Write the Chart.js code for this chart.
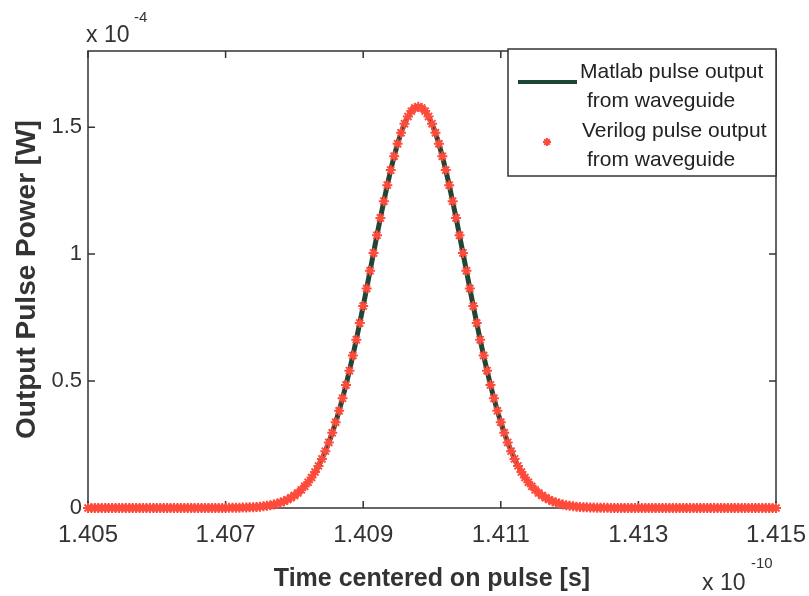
<!DOCTYPE html>
<html>
<head>
<meta charset="utf-8">
<script src="https://cdn.jsdelivr.net/npm/chart.js@4"></script>
<style>
  html, body { margin: 0; padding: 0; background: #fff; }
  #wrap { width: 809px; height: 596px; }
</style>
</head>
<body>
<div id="wrap"><canvas id="pulseChart" width="809" height="596"></canvas></div>
<script>
// Time axis, units of 1e-10 s
const timeValues = [
  1.40500, 1.40505, 1.40510, 1.40515, 1.40520, 1.40525, 1.40530, 1.40535, 1.40540, 1.40545,
  1.40550, 1.40555, 1.40560, 1.40565, 1.40570, 1.40575, 1.40580, 1.40585, 1.40590, 1.40595,
  1.40600, 1.40605, 1.40610, 1.40615, 1.40620, 1.40625, 1.40630, 1.40635, 1.40640, 1.40645,
  1.40650, 1.40655, 1.40660, 1.40665, 1.40670, 1.40675, 1.40680, 1.40685, 1.40690, 1.40695,
  1.40700, 1.40705, 1.40710, 1.40715, 1.40720, 1.40725, 1.40730, 1.40735, 1.40740, 1.40745,
  1.40750, 1.40755, 1.40760, 1.40765, 1.40770, 1.40775, 1.40780, 1.40785, 1.40790, 1.40795,
  1.40800, 1.40805, 1.40810, 1.40815, 1.40820, 1.40825, 1.40830, 1.40835, 1.40840, 1.40845,
  1.40850, 1.40855, 1.40860, 1.40865, 1.40870, 1.40875, 1.40880, 1.40885, 1.40890, 1.40895,
  1.40900, 1.40905, 1.40910, 1.40915, 1.40920, 1.40925, 1.40930, 1.40935, 1.40940, 1.40945,
  1.40950, 1.40955, 1.40960, 1.40965, 1.40970, 1.40975, 1.40980, 1.40985, 1.40990, 1.40995,
  1.41000, 1.41005, 1.41010, 1.41015, 1.41020, 1.41025, 1.41030, 1.41035, 1.41040, 1.41045,
  1.41050, 1.41055, 1.41060, 1.41065, 1.41070, 1.41075, 1.41080, 1.41085, 1.41090, 1.41095,
  1.41100, 1.41105, 1.41110, 1.41115, 1.41120, 1.41125, 1.41130, 1.41135, 1.41140, 1.41145,
  1.41150, 1.41155, 1.41160, 1.41165, 1.41170, 1.41175, 1.41180, 1.41185, 1.41190, 1.41195,
  1.41200, 1.41205, 1.41210, 1.41215, 1.41220, 1.41225, 1.41230, 1.41235, 1.41240, 1.41245,
  1.41250, 1.41255, 1.41260, 1.41265, 1.41270, 1.41275, 1.41280, 1.41285, 1.41290, 1.41295,
  1.41300, 1.41305, 1.41310, 1.41315, 1.41320, 1.41325, 1.41330, 1.41335, 1.41340, 1.41345,
  1.41350, 1.41355, 1.41360, 1.41365, 1.41370, 1.41375, 1.41380, 1.41385, 1.41390, 1.41395,
  1.41400, 1.41405, 1.41410, 1.41415, 1.41420, 1.41425, 1.41430, 1.41435, 1.41440, 1.41445,
  1.41450, 1.41455, 1.41460, 1.41465, 1.41470, 1.41475, 1.41480, 1.41485, 1.41490, 1.41495,
  1.41500
];

// Output power, units of 1e-4 W
const matlabPower = [
  0, 0, 0, 0, 0, 0, 0, 0, 0, 0,
  0, 0, 0, 0, 0, 0, 0, 0, 0, 0,
  0, 0, 0, 0, 0, 0, 0, 0, 0, 0,
  0, 0, 0, 0, 0, 0, 0, 0, 0, 0,
  0, 0.0005, 0.0007, 0.0009, 0.0011, 0.0015, 0.0019, 0.0025, 0.0033, 0.0042,
  0.0054, 0.0069, 0.0088, 0.0111, 0.0140, 0.0175, 0.0217, 0.0268, 0.0330, 0.0403,
  0.0490, 0.0593, 0.0714, 0.0854, 0.1016, 0.1203, 0.1417, 0.1659, 0.1933, 0.2240,
  0.2582, 0.2961, 0.3376, 0.3828, 0.4319, 0.4847, 0.5410, 0.6006, 0.6631, 0.7283,
  0.7957, 0.8646, 0.9345, 1.0046, 1.0742, 1.1425, 1.2086, 1.2717, 1.3310, 1.3856,
  1.4347, 1.4776, 1.5137, 1.5423, 1.5632, 1.5758, 1.5800, 1.5758, 1.5632, 1.5423,
  1.5137, 1.4776, 1.4347, 1.3856, 1.3310, 1.2717, 1.2086, 1.1425, 1.0742, 1.0046,
  0.9345, 0.8646, 0.7957, 0.7283, 0.6631, 0.6006, 0.5410, 0.4847, 0.4319, 0.3828,
  0.3376, 0.2961, 0.2582, 0.2240, 0.1933, 0.1659, 0.1417, 0.1203, 0.1016, 0.0854,
  0.0714, 0.0593, 0.0490, 0.0403, 0.0330, 0.0268, 0.0217, 0.0175, 0.0140, 0.0111,
  0.0088, 0.0069, 0.0054, 0.0042, 0.0033, 0.0025, 0.0019, 0.0015, 0.0011, 0.0009,
  0.0007, 0.0005, 0, 0, 0, 0, 0, 0, 0, 0,
  0, 0, 0, 0, 0, 0, 0, 0, 0, 0,
  0, 0, 0, 0, 0, 0, 0, 0, 0, 0,
  0, 0, 0, 0, 0, 0, 0, 0, 0, 0,
  0, 0, 0, 0, 0, 0, 0, 0, 0, 0,
  0
];
// verilog samples sit on top of the matlab curve
const verilogPower = matlabPower.slice();

const xTicks = [1.405, 1.407, 1.409, 1.411, 1.413, 1.415];
const yTicks = [0, 0.5, 1, 1.5];
const legendLabels = [
  ['Matlab pulse output', 'from waveguide'],
  ['Verilog pulse output', 'from waveguide']
];

const colors = {
  matlab: '#1f4534',
  verilog: '#ff4b3c',
  axis: '#333333',
  text: '#333333'
};
const FONT = '"Liberation Sans", Arial, Helvetica, sans-serif';

// box, inward ticks, legend and the exponent labels, MATLAB style
const matlabAxes = {
  id: 'matlabAxes',
  beforeDatasetsDraw(chart) {
    const { ctx, chartArea: a, scales } = chart;
    const len = 7;
    ctx.save();
    ctx.strokeStyle = colors.axis;
    ctx.lineWidth = 1.5;
    ctx.strokeRect(a.left, a.top, a.right - a.left, a.bottom - a.top);
    ctx.beginPath();
    xTicks.forEach(v => {
      const x = scales.x.getPixelForValue(v);
      ctx.moveTo(x, a.bottom); ctx.lineTo(x, a.bottom - len);
      ctx.moveTo(x, a.top); ctx.lineTo(x, a.top + len);
    });
    yTicks.forEach(v => {
      const y = scales.y.getPixelForValue(v);
      ctx.moveTo(a.left, y); ctx.lineTo(a.left + len, y);
      ctx.moveTo(a.right, y); ctx.lineTo(a.right - len, y);
    });
    ctx.stroke();
    ctx.restore();
  },
  afterDraw(chart) {
    const { ctx, chartArea: a } = chart;
    ctx.save();
    // legend box
    const bx = 508, by = 49, bw = a.right - 508, bh = 127;
    ctx.fillStyle = '#fff';
    ctx.fillRect(bx, by, bw, bh);
    ctx.strokeStyle = colors.axis;
    ctx.lineWidth = 1.5;
    ctx.strokeRect(bx, by, bw, bh);

    ctx.strokeStyle = colors.matlab;
    ctx.lineWidth = 4;
    ctx.beginPath();
    ctx.moveTo(518, 82); ctx.lineTo(577, 82);
    ctx.stroke();

    ctx.strokeStyle = colors.verilog;
    ctx.lineWidth = 2;
    ctx.beginPath();
    for (let i = 0; i < 4; i++) {
      const ang = i * Math.PI / 4;
      ctx.moveTo(547 - 4 * Math.cos(ang), 142 - 4 * Math.sin(ang));
      ctx.lineTo(547 + 4 * Math.cos(ang), 142 + 4 * Math.sin(ang));
    }
    ctx.stroke();

    ctx.fillStyle = '#222';
    ctx.font = '21px ' + FONT;
    ctx.textBaseline = 'middle';
    ctx.textAlign = 'left';
    ctx.fillText(legendLabels[0][0], 580, 72);
    ctx.fillText(legendLabels[0][1], 587, 101);
    ctx.fillText(legendLabels[1][0], 582, 131);
    ctx.fillText(legendLabels[1][1], 587, 160);

    // exponents
    ctx.fillStyle = colors.text;
    ctx.font = '23px ' + FONT;
    ctx.fillText('x 10', 86, 36);
    ctx.fillText('x 10', 702, 584);
    ctx.font = '15px ' + FONT;
    ctx.fillText('-4', 134, 18);
    ctx.fillText('-10', 751, 564);
    ctx.restore();
  }
};

new Chart(document.getElementById('pulseChart'), {
  type: 'scatter',
  data: {
    datasets: [
      {
        label: 'Matlab pulse output from waveguide',
        data: timeValues.map((t, i) => ({ x: t, y: matlabPower[i] })),
        showLine: true,
        borderColor: colors.matlab,
        borderWidth: 5,
        pointRadius: 0,
        tension: 0,
        clip: false,
        order: 2
      },
      {
        label: 'Verilog pulse output from waveguide',
        data: timeValues.map((t, i) => ({ x: t, y: verilogPower[i] })),
        showLine: false,
        pointStyle: 'star',
        pointRadius: 5,
        borderColor: colors.verilog,
        backgroundColor: colors.verilog,
        pointBorderWidth: 2,
        clip: false,
        order: 1
      }
    ]
  },
  options: {
    responsive: false,
    animation: false,
    layout: { padding: { left: 0, right: 33, top: 51, bottom: 0 } },
    plugins: {
      legend: { display: false },
      tooltip: { enabled: false }
    },
    scales: {
      x: {
        type: 'linear',
        min: 1.405,
        max: 1.415,
        afterBuildTicks: s => { s.ticks = xTicks.map(v => ({ value: v })); },
        afterFit: s => { s.height = 88; s.paddingLeft = 0; s.paddingRight = 0; },
        grid: { display: false, drawTicks: false },
        border: { display: false },
        ticks: {
          padding: 13,
          color: colors.text,
          font: { family: FONT, size: 24 },
          callback: v => v.toFixed(3)
        },
        title: {
          display: true,
          text: 'Time centered on pulse [s]',
          color: colors.text,
          font: { family: FONT, size: 25, weight: 'bold' },
          padding: { top: 0, bottom: 2 }
        }
      },
      y: {
        type: 'linear',
        min: 0,
        max: 1.8,
        afterBuildTicks: s => { s.ticks = yTicks.map(v => ({ value: v })); },
        afterFit: s => { s.width = 88; s.paddingTop = 0; s.paddingBottom = 0; },
        grid: { display: false, drawTicks: false },
        border: { display: false },
        ticks: {
          padding: 6,
          color: colors.text,
          font: { family: FONT, size: 22 },
          callback: v => String(v)
        },
        title: {
          display: true,
          text: 'Output Pulse Power [W]',
          color: colors.text,
          font: { family: FONT, size: 28, weight: 'bold' },
          padding: { top: 10, bottom: 0 }
        }
      }
    }
  },
  plugins: [matlabAxes]
});
</script>
</body>
</html>
